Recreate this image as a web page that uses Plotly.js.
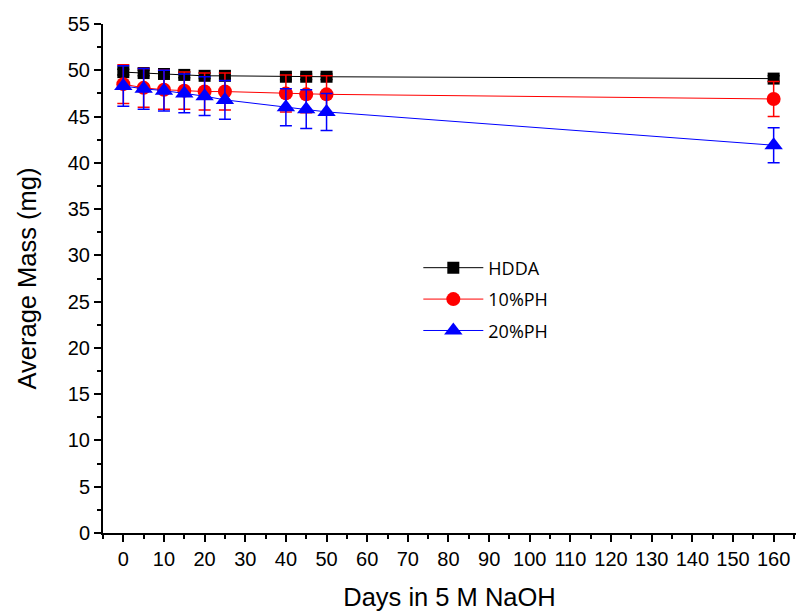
<!DOCTYPE html>
<html><head><meta charset="utf-8">
<script src="https://cdn.plot.ly/plotly-3.0.1.min.js"></script>
<style>html,body{margin:0;padding:0;background:#fff}#c{width:798px;height:615px}</style>
</head><body><div id="c"></div>
<script>
var days = [0, 5, 10, 15, 20, 25, 40, 45, 50, 160];
var hdda = [49.8, 49.7, 49.6, 49.5, 49.4, 49.4, 49.3, 49.3, 49.3, 49.1];
var hddaErr = [0.3, 0.3, 0.3, 0.3, 0.3, 0.3, 0.3, 0.3, 0.3, 0.3];
var ph10 = [48.5, 48.1, 47.9, 47.8, 47.7, 47.7, 47.5, 47.4, 47.4, 46.9];
var ph10Err = [2.1, 2.1, 2.1, 2.0, 2.0, 2.0, 2.0, 2.0, 2.0, 1.9];
var ph20 = [48.3, 48.0, 47.8, 47.5, 47.2, 46.8, 46.0, 45.8, 45.5, 41.9];
var ph20Err = [2.2, 2.2, 2.2, 2.1, 2.1, 2.1, 2.0, 2.1, 2.0, 1.9];
var names = ["HDDA", "10%PH", "20%PH"];
var xTicks = [0,10,20,30,40,50,60,70,80,90,100,110,120,130,140,150,160];

function tr(y, e, name, color, sym, size) {
  return {x: days, y: y, name: name, legendgroup: name, type: 'scatter', mode: 'lines+markers',
    line: {color: color, width: 1},
    marker: {color: color, symbol: sym, size: size},
    error_y: {type: 'data', array: e, visible: true, color: color, thickness: 1.5, width: 6}};
}
var data = [
  tr(hdda, hddaErr, names[0], '#000000', 'square', 12),
  tr(ph10, ph10Err, names[1], '#ff0000', 'circle', 14),
  tr(ph20, ph20Err, names[2], '#0000ff', 'triangle-up', 16)
];
var ff = 'Liberation Sans, Arial, sans-serif';
var layout = {
  width: 798, height: 615,
  margin: {l: 103, r: 2, t: 24, b: 82},
  paper_bgcolor: '#fff', plot_bgcolor: '#fff',
  showlegend: true,
  legend: {x: 0.455, y: 0.557, xanchor: 'left', yanchor: 'top', traceorder: 'grouped',
    font: {family: 'Open Sans, sans-serif', size: 18, color: '#000'}, itemwidth: 60,
    bgcolor: 'rgba(0,0,0,0)', tracegroupgap: 5},
  xaxis: {range: [-5, 165.5], tickvals: xTicks, ticktext: xTicks.map(String),
    showgrid: false, zeroline: false, showline: true, linecolor: '#000', linewidth: 2,
    ticks: 'outside', ticklen: 7, tickwidth: 2, tickcolor: '#000',
    minor: {dtick: 5, tick0: 5, ticks: 'outside', ticklen: 4, tickwidth: 2, tickcolor: '#000', showgrid: false},
    tickfont: {family: ff, size: 20, color: '#000'},
    title: {text: 'Days in 5 M NaOH', font: {family: ff, size: 25.5, color: '#000'}, standoff: 19}},
  yaxis: {range: [0, 55], dtick: 5, tick0: 0,
    showgrid: false, zeroline: false, showline: true, linecolor: '#000', linewidth: 2,
    ticks: 'outside', ticklen: 7, tickwidth: 2, tickcolor: '#000',
    minor: {dtick: 2.5, ticks: 'outside', ticklen: 4, tickwidth: 2, tickcolor: '#000', showgrid: false},
    tickfont: {family: ff, size: 20, color: '#000'},
    title: {text: 'Average Mass (mg)', font: {family: ff, size: 25.5, color: '#000'}, standoff: 24}}
};
Plotly.newPlot('c', data, layout, {displayModeBar: false, staticPlot: true});
</script></body></html>
